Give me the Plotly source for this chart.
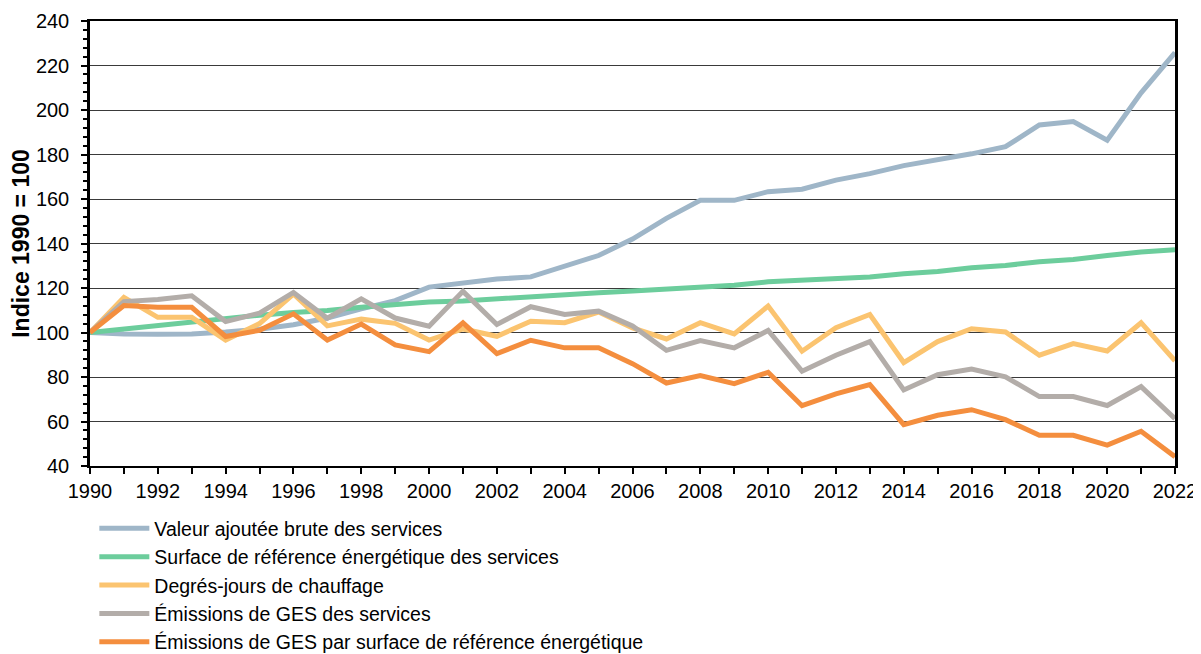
import plotly.graph_objects as go

years = list(range(1990, 2023))

valeur_ajoutee = [100, 99.3, 99.2, 99.3, 100.2, 101.5, 103.5, 106.5, 110.6, 114.3, 120.4,
                  122.0, 124.0, 125.0, 130.0, 134.6, 142.0, 151.3, 159.4, 159.4, 163.3,
                  164.4, 168.5, 171.4, 175.0, 177.6, 180.3, 183.5, 193.3, 194.8, 186.4,
                  207.7, 225.8]
surface_sre = [100, 101.6, 103.4, 104.8, 106.1, 107.8, 109.0, 109.9, 111.4, 112.6, 113.7,
               114.2, 115.2, 116.1, 117.0, 117.9, 118.6, 119.4, 120.3, 121.2, 122.8,
               123.6, 124.1, 124.9, 126.4, 127.4, 129.1, 130.1, 131.8, 132.8, 134.6,
               136.2, 137.2]
degres_jours = [100, 115.8, 106.8, 106.8, 96.6, 104.0, 117.3, 103.0, 106.0, 104.1, 96.6,
                101.6, 98.3, 105.1, 104.4, 109.2, 102.1, 97.1, 104.4, 99.4, 111.9,
                91.6, 102.2, 108.1, 86.5, 95.9, 101.7, 100.2, 89.8, 95.0, 91.7,
                104.4, 87.3]
emissions_ges = [100, 113.9, 114.8, 116.5, 104.9, 108.7, 118.0, 106.4, 115.1, 106.5, 102.8,
                 118.5, 103.6, 111.6, 108.1, 109.6, 102.9, 92.0, 96.4, 93.1, 100.9,
                 82.6, 89.8, 95.9, 74.2, 81.0, 83.6, 80.1, 71.2, 71.2, 67.2,
                 75.7, 61.3]
emissions_par_sre = [100, 112.1, 111.3, 111.3, 98.2, 101.0, 108.4, 96.6, 103.8, 94.4, 91.4,
                     104.3, 90.5, 96.5, 93.1, 93.1, 86.0, 77.3, 80.6, 77.0, 82.1,
                     67.1, 72.4, 76.6, 58.6, 62.8, 65.3, 60.8, 53.8, 53.8, 49.4,
                     55.6, 44.2]

series = [
    ("Valeur ajoutée brute des services", valeur_ajoutee, "#9fb6c8"),
    ("Surface de référence énergétique des services", surface_sre, "#6ccd9c"),
    ("Degrés-jours de chauffage", degres_jours, "#fbc470"),
    ("Émissions de GES des services", emissions_ges, "#b3ada9"),
    ("Émissions de GES par surface de référence énergétique", emissions_par_sre, "#f48e3e"),
]

font = "Arial, Liberation Sans, sans-serif"

fig = go.Figure()
for name, vals, color in series:
    fig.add_trace(go.Scatter(x=years, y=vals, name=name, mode="lines",
                             line=dict(color=color, width=5)))

# page body has an 8px margin, so the margins below are shifted to compensate
fig.update_layout(
    width=1201, height=654,
    margin=dict(l=82, r=34, t=13, b=196, autoexpand=False),
    plot_bgcolor="white", paper_bgcolor="white",
    font=dict(family=font, color="black"),
    showlegend=True,
    legend=dict(orientation="v", x=0.004, xanchor="left", y=-0.097, yanchor="top",
                font=dict(size=19.5), itemwidth=50, bgcolor="rgba(0,0,0,0)"),
)

fig.update_xaxes(
    range=[1990, 2022],
    tickvals=list(range(1990, 2023, 2)),
    ticks="outside", ticklen=6, tickwidth=1.5, tickcolor="black",
    minor=dict(dtick=1, ticks="outside", ticklen=6, tickcolor="black"),
    showgrid=False, zeroline=False,
    showline=True, linecolor="black", linewidth=2, mirror=True,
    tickfont=dict(size=20),
)
fig.update_yaxes(
    range=[40, 240], dtick=20,
    ticks="outside", ticklen=6, tickwidth=1.5, tickcolor="black",
    minor=dict(dtick=4, ticks="outside", ticklen=4, tickcolor="black", showgrid=False),
    showgrid=True, gridcolor="#3a3a3a", gridwidth=1, zeroline=False,
    showline=True, linecolor="black", linewidth=2.5, mirror=True,
    tickfont=dict(size=20), ticklabelstandoff=8,
    title=dict(text="<b>Indice 1990 = 100</b>", font=dict(size=23), standoff=0),
)

fig.write_html("out.html")
